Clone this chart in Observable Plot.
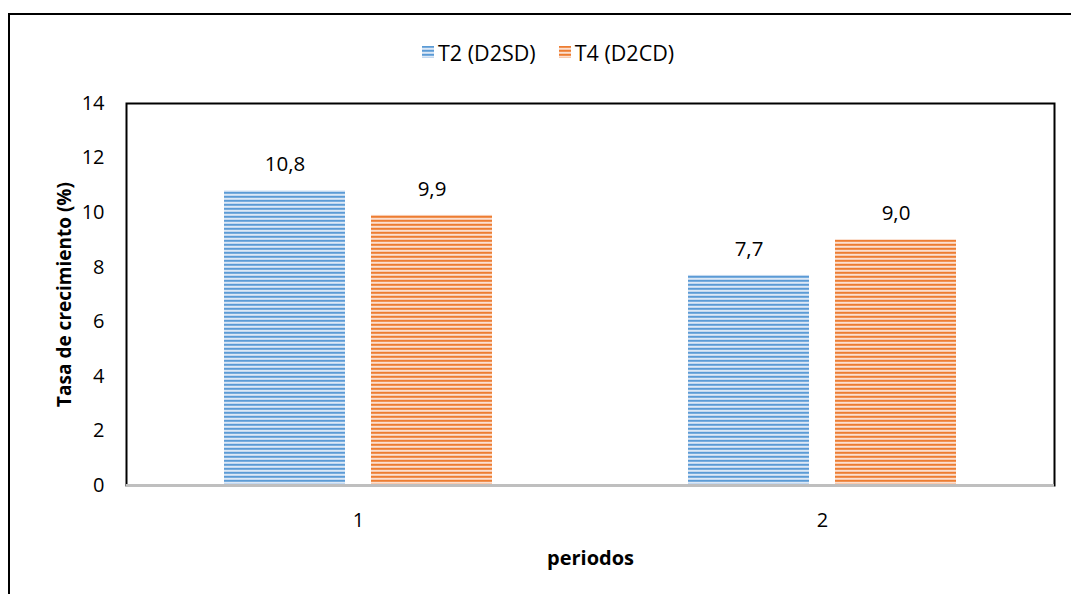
<!DOCTYPE html>
<html>
<head>
<meta charset="utf-8">
<script src="https://cdn.jsdelivr.net/npm/d3@7"></script>
<script src="https://cdn.jsdelivr.net/npm/@observablehq/plot@0.6"></script>
<style>
  body { margin: 0; background: #fff; font-family: "Open Sans", sans-serif; }
  #wrap { position: relative; width: 1071px; height: 594px; overflow: hidden; }
  #border { position: absolute; left: 8px; top: 13px; width: 1100px; height: 640px;
            border: 2px solid #000; pointer-events: none; box-sizing: border-box; }
  #legend { position: absolute; top: 36px; left: 422px; height: 32px; display: flex;
            align-items: center; font-size: 21.5px; color: #000; }
  #legend .item { display: flex; align-items: center; margin-right: 23px; }
  #legend svg { margin-right: 4px; }
  #chart { position: absolute; top: 84px; left: 0; }
  #chart [aria-label="y-axis label"] text,
  #chart [aria-label="fx-axis label"] text { font-weight: bold; }
</style>
</head>
<body>
<svg width="0" height="0" style="position:absolute">
  <defs>
    <pattern id="rayasAzul" patternUnits="userSpaceOnUse" width="8" height="4">
      <rect width="8" height="4" fill="#a9c8ea"/>
      <rect y="0" width="8" height="1.6" fill="#5b9bd5"/>
      <rect y="2.4" width="8" height="0.9" fill="#ffffff"/>
    </pattern>
    <pattern id="rayasNaranja" patternUnits="userSpaceOnUse" width="8" height="4">
      <rect width="8" height="4" fill="#f5b28a"/>
      <rect y="0" width="8" height="1.6" fill="#ed7d31"/>
      <rect y="2.4" width="8" height="0.9" fill="#ffffff"/>
    </pattern>
  </defs>
</svg>
<div id="wrap">
  <div id="legend"></div>
  <div id="chart"></div>
  <div id="border"></div>
</div>
<script>
// Growth rate per period for the two treatments
const periods = ["1", "2"];
const series = ["T2 (D2SD)", "T4 (D2CD)"];
const t2 = [10.8, 7.7];
const t4 = [9.9, 9.0];
const yTicks = [0, 2, 4, 6, 8, 10, 12, 14];
const fills = ["url(#rayasAzul)", "url(#rayasNaranja)"];

const rows = periods.flatMap((p, i) => [
  {period: p, series: series[0], value: t2[i]},
  {period: p, series: series[1], value: t4[i]}
]);

const fmt = v => v.toFixed(1).replace(".", ",");

const chart = Plot.plot({
  width: 1071,
  height: 510,
  marginLeft: 126,
  marginRight: 17,
  marginTop: 19,
  marginBottom: 109,
  style: {fontFamily: "Open Sans, sans-serif", fontSize: "20px", color: "#000", background: "transparent", overflow: "visible"},
  fx: {domain: periods, padding: 0},
  x: {domain: series, paddingInner: 0.177, paddingOuter: 0.666, axis: null},
  y: {domain: [0, 14]},
  color: {domain: series, range: fills},
  marks: [
    Plot.barY(rows, {fx: "period", x: "series", y: "value", fill: "series"}),
    Plot.text(rows, {fx: "period", x: "series", y: "value", text: d => fmt(d.value), dy: -26, fill: "#000", fontSize: 20.5}),
    Plot.frame({facet: "super", stroke: "#000", strokeWidth: 2}),
    Plot.ruleY([0], {stroke: "#bfbfbf", strokeWidth: 3}),
    Plot.axisY({ticks: yTicks, tickSize: 0, tickPadding: 22, label: null, fontSize: 20}),
    Plot.axisY({ticks: [], tickSize: 0, label: "Tasa de crecimiento (%)", labelAnchor: "center", labelArrow: "none", labelOffset: 69, fontSize: 19}),
    Plot.axisFx({anchor: "bottom", tickSize: 0, tickPadding: 27, label: null, fontSize: 20}),
    Plot.axisFx({anchor: "bottom", ticks: [], tickSize: 0, label: "periodos", labelAnchor: "center", labelArrow: "none", labelOffset: 79, fontSize: 20})
  ]
});
document.getElementById("chart").append(chart);

// Legend with striped swatches
const legend = d3.select("#legend");
series.forEach((s, i) => {
  const item = legend.append("div").attr("class", "item");
  item.append("svg").attr("width", 12).attr("height", 12)
    .append("rect").attr("width", 12).attr("height", 12).attr("fill", fills[i]);
  item.append("span").text(s);
});
</script>
</body>
</html>
